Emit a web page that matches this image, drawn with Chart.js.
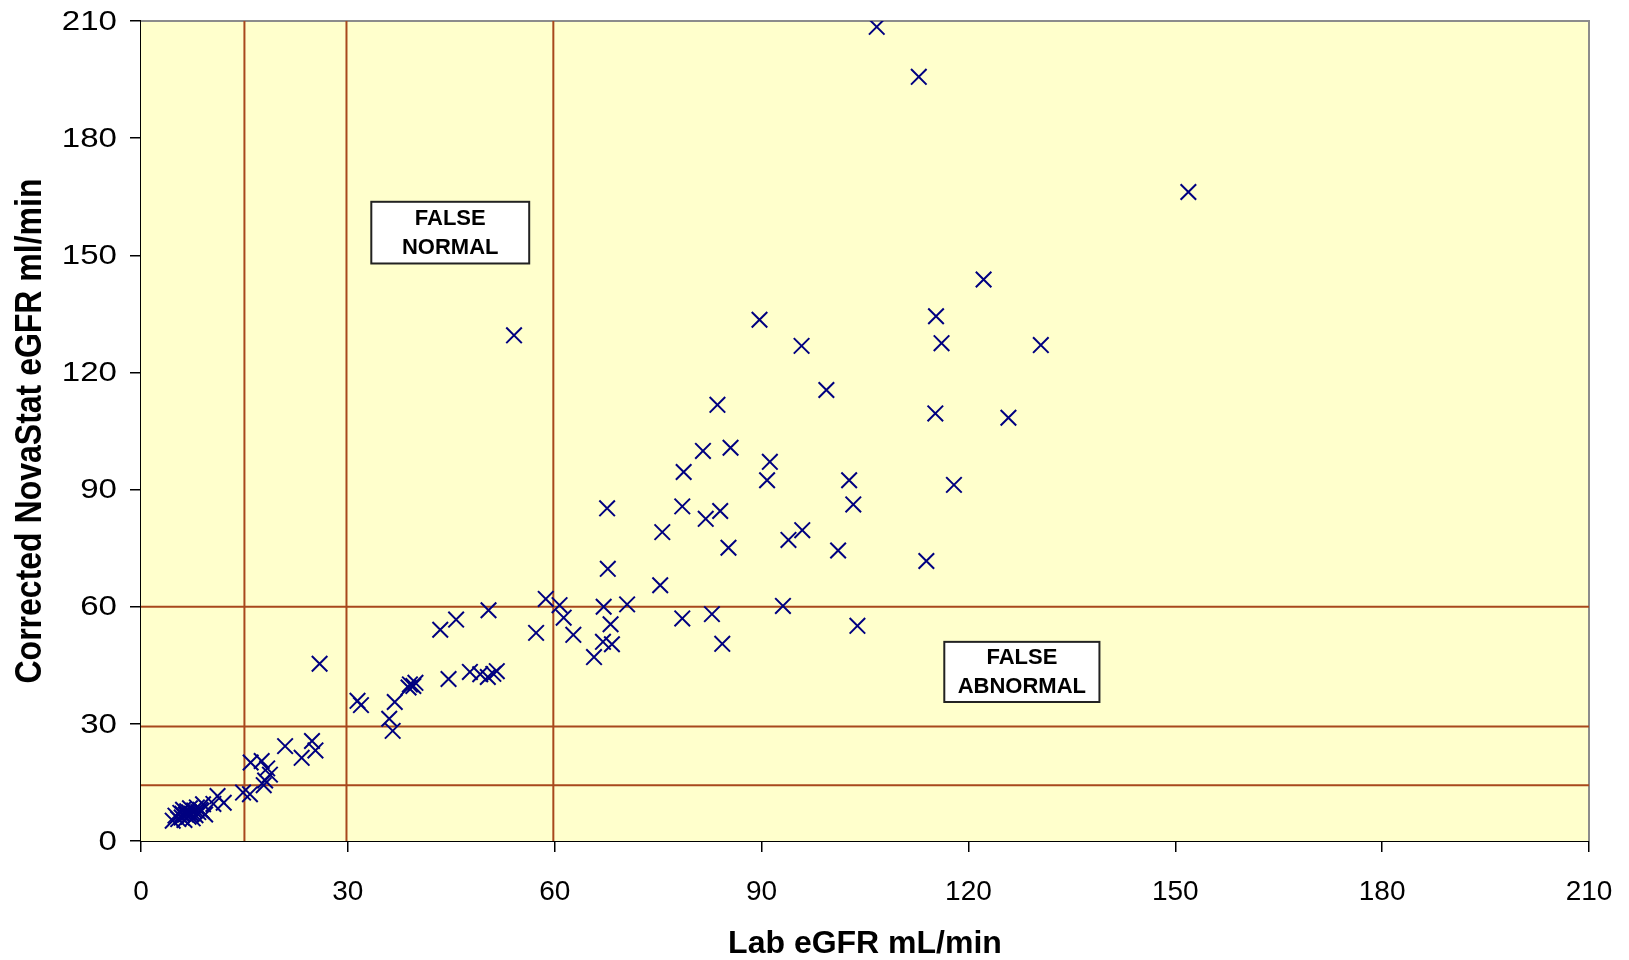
<!DOCTYPE html>
<html lang="en">
<head>
    <meta charset="UTF-8">
    <title>Lab eGFR vs NovaStat eGFR</title>
    <script src="https://cdn.jsdelivr.net/npm/chart.js"></script>
</head>
<style>
    body { margin: 0; background: white; }
    .chart-box { width: 1629px; height: 960px; position: relative; }
</style>
<body>
    <div class="chart-box">
        <canvas id="scatterChart"></canvas>
    </div>
    <script>
        // lab eGFR (x) and corrected NovaStat eGFR (y)
        const labEgfr = [
            106.7, 112.8, 151.9, 122.2, 115.3, 89.7, 54.1, 116.1, 95.8, 130.5,
            99.4, 83.6, 115.2, 125.8, 85.5, 81.5, 91.2, 78.7, 90.8, 102.7,
            117.9, 67.6, 78.5, 103.3, 84.0, 81.9, 75.6, 95.9, 93.9, 85.2,
            101.1, 113.9, 67.7, 75.3, 58.7, 60.7, 67.1, 70.5, 93.1, 50.4,
            61.3, 78.5, 82.8, 45.7, 68.1, 103.9, 43.4, 57.3, 62.7, 67.0,
            68.3, 84.3, 65.7, 25.9, 47.7, 44.6, 49.2, 50.3, 51.1, 51.6,
            39.0, 39.8, 39.5, 38.8, 31.4, 31.9, 36.8, 36.0, 36.5, 24.8,
            20.9, 23.3, 25.3, 15.9, 17.5, 18.3, 18.7, 18.0, 17.8, 14.8,
            15.8, 11.1, 12.0, 10.5, 9.0, 8.8, 9.3,
            4.6, 5.0, 5.4, 5.7, 5.9, 6.1, 6.3, 6.5, 6.7, 6.9,
            7.1, 7.3, 7.5, 7.7, 7.9, 8.1, 8.3, 8.6, 6.0, 7.0
        ];
        const novaEgfr = [
            208.5, 195.7, 166.2, 143.8, 134.4, 133.5, 129.5, 127.5, 126.8, 127.0,
            115.5, 111.7, 109.5, 108.4, 100.7, 99.9, 97.1, 94.5, 92.4, 92.4,
            91.2, 85.2, 85.7, 86.2, 84.5, 82.5, 79.1, 79.6, 77.1, 75.1,
            74.4, 71.7, 69.7, 65.5, 62.0, 60.4, 60.0, 60.6, 60.2, 59.1,
            57.2, 57.0, 58.1, 56.7, 55.5, 55.1, 54.1, 53.3, 52.8, 51.0,
            50.4, 50.5, 47.1, 45.4, 43.3, 41.5, 42.7, 42.0, 42.8, 43.5,
            40.1, 40.5, 39.7, 39.3, 35.9, 34.8, 35.6, 31.3, 28.2, 25.6,
            24.3, 21.3, 23.2, 20.1, 20.5, 18.6, 17.0, 15.5, 14.3, 12.4,
            12.0, 11.5, 9.8, 9.5, 9.4, 7.7, 6.8,
            5.2, 6.5, 5.6, 7.2, 6.0, 8.0, 5.4, 6.8, 7.6, 6.2,
            8.4, 7.0, 5.8, 7.8, 6.6, 8.6, 7.4, 8.0, 7.0, 7.3
        ];

        // stage cut-off lines
        const cutLab = [15, 29.8, 59.8];
        const cutNova = [60, 29.3, 14.3];

        const tickValues = [0, 30, 60, 90, 120, 150, 180, 210];
        const regionLabels = [["FALSE", "NORMAL"], ["FALSE", "ABNORMAL"]];
        const yTitle = "Corrected NovaStat eGFR ml/min";

        const axisMin = 0;
        const axisMax = 210;

        const points = labEgfr.map((x, i) => ({ x: x, y: novaEgfr[i] }));

        const cutColor = "#A8481C";
        const datasets = [];
        cutLab.forEach(v => {
            datasets.push({
                type: "line",
                data: [{ x: v, y: axisMin }, { x: v, y: axisMax }],
                borderColor: cutColor, borderWidth: 2, pointRadius: 0, order: 2
            });
        });
        cutNova.forEach(v => {
            datasets.push({
                type: "line",
                data: [{ x: axisMin, y: v }, { x: axisMax, y: v }],
                borderColor: cutColor, borderWidth: 2, pointRadius: 0, order: 2
            });
        });
        datasets.push({
            type: "scatter",
            data: points,
            pointStyle: "crossRot",
            pointRadius: 11,
            pointHoverRadius: 11,
            borderColor: "#000080",
            backgroundColor: "#000080",
            borderWidth: 2,
            order: 1
        });

        // yellow plot area, grey top/right frame, region boxes,
        // and the y labels (drawn a bit wider, like the original)
        const plotDecor = {
            id: "plotDecor",
            beforeDatasetsDraw(chart) {
                const { ctx, chartArea: a } = chart;
                ctx.save();
                ctx.fillStyle = "#FFFFCC";
                ctx.fillRect(a.left, a.top, a.right - a.left, a.bottom - a.top);
                ctx.strokeStyle = "#8C8C8C";
                ctx.lineWidth = 2;
                ctx.beginPath();
                ctx.moveTo(a.left, a.top);
                ctx.lineTo(a.right, a.top);
                ctx.lineTo(a.right, a.bottom);
                ctx.stroke();
                ctx.restore();
            },
            afterDraw(chart) {
                const { ctx, chartArea: a, scales: { x, y } } = chart;
                const boxes = [
                    { x0: 33.4, x1: 56.3, y0: 163.7, y1: 147.9 },
                    { x0: 116.5, x1: 139.0, y0: 51.0, y1: 35.6 }
                ];
                ctx.save();
                boxes.forEach((b, i) => {
                    const l = x.getPixelForValue(b.x0), r = x.getPixelForValue(b.x1);
                    const t = y.getPixelForValue(b.y0), btm = y.getPixelForValue(b.y1);
                    ctx.fillStyle = "white";
                    ctx.fillRect(l, t, r - l, btm - t);
                    ctx.strokeStyle = "#222";
                    ctx.lineWidth = 2;
                    ctx.strokeRect(l, t, r - l, btm - t);
                    ctx.fillStyle = "#000";
                    ctx.font = "bold 22px 'Liberation Sans', Arial, sans-serif";
                    ctx.textAlign = "center";
                    ctx.textBaseline = "middle";
                    const cx = (l + r) / 2, cy = (t + btm) / 2;
                    ctx.fillText(regionLabels[i][0], cx, cy - 14);
                    ctx.fillText(regionLabels[i][1], cx, cy + 15);
                });
                ctx.restore();

                // y tick labels
                ctx.save();
                ctx.fillStyle = "#000";
                ctx.font = "28px 'Liberation Sans', Arial, sans-serif";
                ctx.textAlign = "right";
                ctx.textBaseline = "middle";
                y.ticks.forEach(t => {
                    const py = y.getPixelForValue(t.value);
                    ctx.save();
                    ctx.translate(a.left - 24, py + 1);
                    ctx.scale(1.18, 1);
                    ctx.fillText(String(t.value), 0, 0);
                    ctx.restore();
                });
                ctx.restore();

                // y title
                ctx.save();
                ctx.fillStyle = "#000";
                ctx.font = "bold 32px 'Liberation Sans', Arial, sans-serif";
                ctx.textAlign = "center";
                ctx.textBaseline = "middle";
                ctx.translate(31, (a.top + a.bottom) / 2);
                ctx.rotate(-Math.PI / 2);
                ctx.scale(1, 1.15);
                ctx.fillText(yTitle, 0, 0);
                ctx.restore();
            }
        };

        const setTicks = scale => { scale.ticks = tickValues.map(v => ({ value: v })); };

        new Chart(document.getElementById("scatterChart"), {
            type: "scatter",
            data: { datasets: datasets },
            plugins: [plotDecor],
            options: {
                responsive: true,
                maintainAspectRatio: false,
                animation: false,
                layout: { padding: { left: 0, top: 21, right: 40, bottom: 0 } },
                plugins: {
                    legend: { display: false },
                    tooltip: { enabled: false }
                },
                scales: {
                    x: {
                        type: "linear",
                        min: axisMin,
                        max: axisMax,
                        afterBuildTicks: setTicks,
                        afterFit: s => { s.height = 119; s.paddingLeft = 0; s.paddingRight = 0; },
                        grid: { drawOnChartArea: false, drawTicks: true, tickLength: 11, color: "#000", lineWidth: 1.5 },
                        border: { display: true, color: "#000", width: 2 },
                        ticks: {
                            color: "#000",
                            padding: 23,
                            maxRotation: 0,
                            font: { family: "'Liberation Sans', Arial, sans-serif", size: 28 }
                        },
                        title: {
                            display: true,
                            text: "Lab eGFR mL/min",
                            color: "#000",
                            padding: { top: 0, bottom: 0 },
                            font: { family: "'Liberation Sans', Arial, sans-serif", size: 32, weight: "bold", lineHeight: 1 }
                        }
                    },
                    y: {
                        type: "linear",
                        min: axisMin,
                        max: axisMax,
                        afterBuildTicks: setTicks,
                        afterFit: s => { s.width = 141; s.paddingTop = 0; s.paddingBottom = 0; },
                        grid: { drawOnChartArea: false, drawTicks: true, tickLength: 11, color: "#000", lineWidth: 1.5 },
                        border: { display: true, color: "#000", width: 2 },
                        ticks: { display: false },
                        title: { display: false }
                    }
                }
            }
        });
    </script>
</body>
</html>
